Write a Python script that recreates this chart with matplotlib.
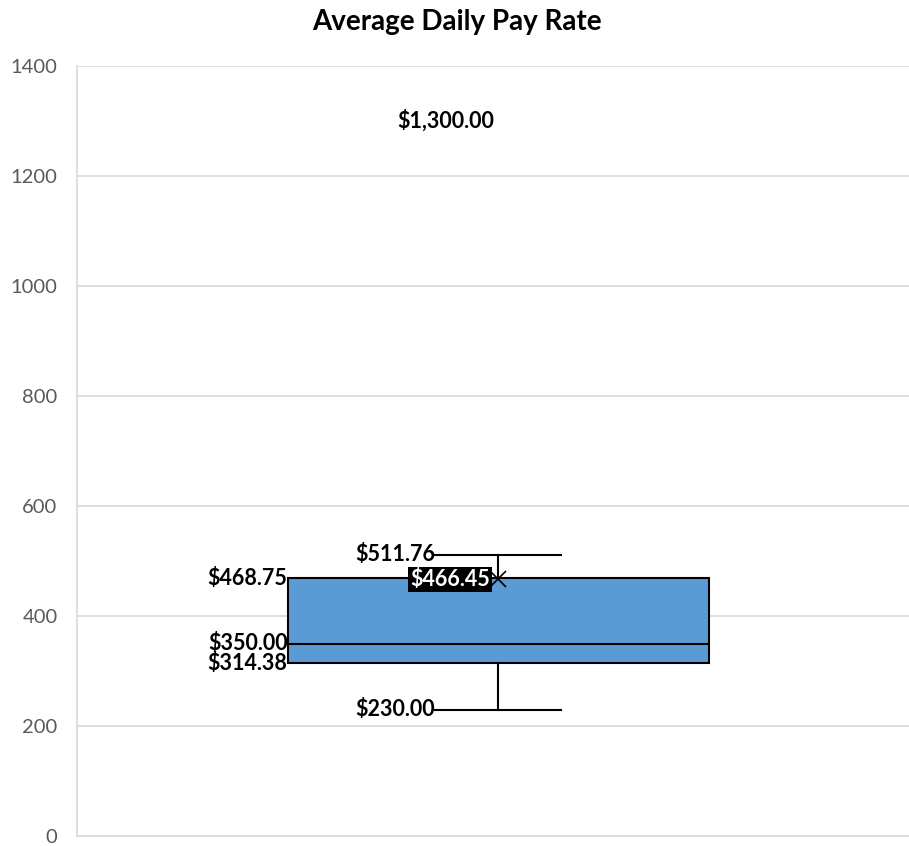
import matplotlib
matplotlib.use('Agg')
import matplotlib.pyplot as plt

# Resumen de la caja
pay_min = 230.00
pay_q1 = 314.38
pay_median = 350.00
pay_q3 = 468.75
pay_max = 511.76
pay_mean = 466.45
outliers = [1300.00]
y_ticks = [0, 200, 400, 600, 800, 1000, 1200, 1400]

plt.rcParams['font.family'] = ['Lato', 'DejaVu Sans']

fig = plt.figure(figsize=(9.09, 8.46), dpi=100)
ax = fig.add_axes([77 / 909, 10 / 846, 1 - 77 / 909, 770 / 846])

stats = [dict(med=pay_median, q1=pay_q1, q3=pay_q3, whislo=pay_min,
              whishi=pay_max, mean=pay_mean, fliers=[], label='')]
ax.bxp(stats, positions=[1], widths=1.0, patch_artist=True,
       showmeans=True, showfliers=False,
       boxprops=dict(facecolor='#5B9BD5', edgecolor='black', linewidth=1.5),
       medianprops=dict(color='black', linewidth=1.5),
       whiskerprops=dict(color='black', linewidth=1.5),
       capprops=dict(color='black', linewidth=1.5),
       capwidths=0.3,
       meanprops=dict(marker='x', markeredgecolor='black', markersize=12,
                      markeredgewidth=1.2))

lbl = dict(fontsize=15.5, fontweight='bold', color='black', va='center')
ax.text(1 - 0.15, pay_max, f"${pay_max:,.2f}", ha='right', **lbl)
ax.text(1 - 0.15, pay_min, f"${pay_min:,.2f}", ha='right', **lbl)
ax.text(0.5, pay_q3, f"${pay_q3:,.2f}", ha='right', **lbl)
ax.text(0.5, pay_median, f"${pay_median:,.2f}", ha='right', **lbl)
ax.text(0.5, pay_q1, f"${pay_q1:,.2f}", ha='right', **lbl)
ax.text(1 - 0.02, pay_mean, f"${pay_mean:,.2f}", ha='right',
        fontsize=15.5, fontweight='bold', color='white', va='center',
        bbox=dict(boxstyle='square,pad=0.1', facecolor='black', edgecolor='none'))
for o in outliers:
    ax.text(1 - 0.01, o, f"${o:,.2f}", ha='right', **lbl)

ax.set_xlim(0, 1.976)
ax.set_ylim(0, 1400)
ax.set_yticks(y_ticks)
ax.set_xticks([])
ax.grid(axis='y', color='#D9D9D9', linewidth=1.2)
ax.set_axisbelow(True)
for s in ['top', 'right']:
    ax.spines[s].set_visible(False)
ax.spines['left'].set_color('#D9D9D9')
ax.spines['bottom'].set_color('#D9D9D9')
ax.spines['left'].set_linewidth(1.2)
ax.spines['bottom'].set_linewidth(1.2)
ax.tick_params(axis='y', length=0, labelsize=14.5, labelcolor='#595959', pad=14)

fig.text(457 / 909, 1 - 22 / 846, 'Average Daily Pay Rate', ha='center', va='center',
         fontsize=20, fontweight='bold')

fig.savefig('out.png', dpi=100)
